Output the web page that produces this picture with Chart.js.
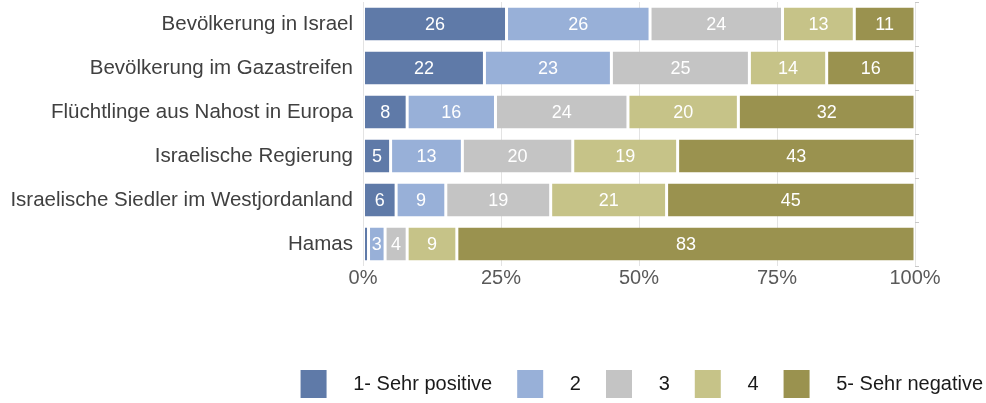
<!DOCTYPE html>
<html>
<head>
<meta charset="utf-8">
<script src="https://cdn.jsdelivr.net/npm/chart.js@4"></script>
<style>
  html, body { margin: 0; padding: 0; background: #fff; }
  #wrap { width: 986px; height: 403px; }
</style>
</head>
<body>
<div id="wrap"><canvas id="chart"></canvas></div>
<script>
const categories = [
  'Bevölkerung in Israel',
  'Bevölkerung im Gazastreifen',
  'Flüchtlinge aus Nahost in Europa',
  'Israelische Regierung',
  'Israelische Siedler im Westjordanland',
  'Hamas'
];
const seriesNames = ['1- Sehr positive', '2', '3', '4', '5- Sehr negative'];
const sehrPositiv = [26, 22, 8, 5, 6, 1];
const stufe2 = [26, 23, 16, 13, 9, 3];
const stufe3 = [24, 25, 24, 20, 19, 4];
const stufe4 = [13, 14, 20, 19, 21, 9];
const sehrNegativ = [11, 16, 32, 43, 45, 83];
const xTicks = [0, 25, 50, 75, 100];

const colors = ['#5f7aa8', '#98b0d8', '#c4c4c4', '#c6c388', '#9a924f'];
const values = [sehrPositiv, stufe2, stufe3, stufe4, sehrNegativ];
const FONT = '"Liberation Sans", Arial, sans-serif';

// Zahlen mittig in die Balkensegmente schreiben
const barLabels = {
  id: 'barLabels',
  afterDatasetsDraw(chart) {
    const ctx = chart.ctx;
    ctx.save();
    ctx.font = '18px ' + FONT;
    ctx.fillStyle = '#ffffff';
    ctx.textAlign = 'center';
    ctx.textBaseline = 'middle';
    chart.data.datasets.forEach((ds, i) => {
      chart.getDatasetMeta(i).data.forEach((bar, j) => {
        const v = ds.data[j];
        if (v < 3) return;
        ctx.fillText(v, (bar.x + bar.base) / 2, bar.y + 1);
      });
    });
    ctx.restore();
  }
};

new Chart(document.getElementById('chart'), {
  type: 'bar',
  data: {
    labels: categories,
    datasets: seriesNames.map((name, i) => ({
      label: name,
      data: values[i],
      backgroundColor: colors[i],
      borderColor: '#ffffff',
      borderWidth: { left: 1.5, right: 1.5, top: 0, bottom: 0 },
      borderSkipped: false,
      barPercentage: 0.75,
      categoryPercentage: 1
    }))
  },
  options: {
    indexAxis: 'y',
    responsive: true,
    maintainAspectRatio: false,
    animation: false,
    layout: { padding: { top: 2, right: -22, left: 10, bottom: -5 } },
    scales: {
      x: {
        stacked: true,
        min: 0,
        max: 100,
        afterBuildTicks: (scale) => { scale.ticks = xTicks.map(v => ({ value: v })); },
        afterFit: (scale) => {
          scale.height = 79;
          scale.paddingRight = 71;
        },
        grid: { color: '#e3e3e3', drawTicks: false },
        border: { display: false },
        ticks: {
          color: '#595959',
          font: { family: FONT, size: 20 },
          padding: 0,
          callback: (v) => v + '%'
        }
      },
      y: {
        stacked: true,
        afterFit: (scale) => {
          scale.width = 353;
          scale.paddingTop = 0;
          scale.paddingBottom = 0;
        },
        grid: { display: false, drawTicks: false },
        border: { display: false },
        ticks: {
          color: '#404040',
          font: { family: FONT, size: 20.5 },
          padding: 10
        }
      },
      yRight: {
        type: 'category',
        labels: categories,
        position: 'right',
        afterFit: (scale) => {
          scale.paddingTop = 0;
          scale.paddingBottom = 0;
        },
        grid: { drawOnChartArea: false, tickLength: 4, color: '#c8c8c8' },
        border: { display: false },
        ticks: { display: false }
      }
    },
    plugins: {
      legend: {
        position: 'bottom',
        align: 'end',
        labels: {
          boxWidth: 26,
          boxHeight: 28,
          padding: 25,
          color: '#1a1a1a',
          font: { family: FONT, size: 20 },
          generateLabels: (chart) =>
            Chart.defaults.plugins.legend.labels.generateLabels(chart).map(item => {
              item.text = '   ' + item.text;
              item.lineWidth = 0;
              return item;
            })
        }
      },
      tooltip: { enabled: false }
    }
  },
  plugins: [barLabels]
});
</script>
</body>
</html>
